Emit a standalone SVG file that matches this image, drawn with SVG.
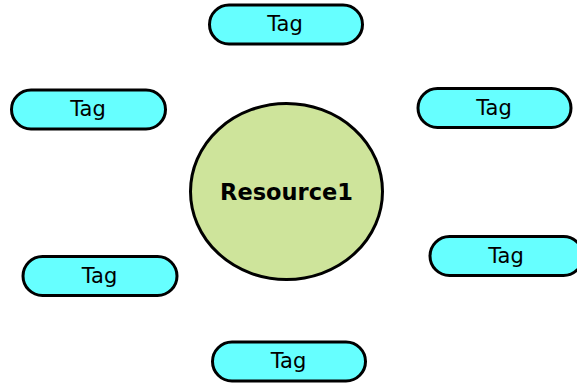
<svg xmlns="http://www.w3.org/2000/svg" width="577" height="383" viewBox="0 0 577 383">
<style>
.tag rect{fill:#66ffff;stroke:#000;stroke-width:3}
.tag text{font-family:"DejaVu Sans",sans-serif;font-size:21px;fill:#000;text-anchor:middle}
.res ellipse{fill:#cee49b;stroke:#000;stroke-width:3}
.res text{font-family:"DejaVu Sans",sans-serif;font-size:22.5px;font-weight:bold;fill:#000;text-anchor:middle}
</style>
<rect width="577" height="383" fill="#fff"/>
<g id="connectors"></g>
<g id="resource1" class="res">
<ellipse cx="286.5" cy="191.5" rx="96" ry="88"/>
<text x="286.5" y="200">Resource1</text>
</g>
<g id="tag-top" class="tag">
<rect x="209.5" y="5" width="153" height="39" rx="19.5"/>
<text x="285" y="31">Tag</text>
</g>
<g id="tag-left-upper" class="tag">
<rect x="11.5" y="90" width="154" height="39" rx="19.5"/>
<text x="88" y="116">Tag</text>
</g>
<g id="tag-right-upper" class="tag">
<rect x="418" y="88.5" width="153" height="39" rx="19.5"/>
<text x="494" y="114.5">Tag</text>
</g>
<g id="tag-right-lower" class="tag">
<rect x="430" y="236.5" width="153" height="39" rx="19.5"/>
<text x="506" y="263">Tag</text>
</g>
<g id="tag-left-lower" class="tag">
<rect x="23" y="256.5" width="154" height="39" rx="19.5"/>
<text x="99.5" y="283">Tag</text>
</g>
<g id="tag-bottom" class="tag">
<rect x="212.5" y="342" width="153" height="39" rx="19.5"/>
<text x="288.5" y="368">Tag</text>
</g>
</svg>
